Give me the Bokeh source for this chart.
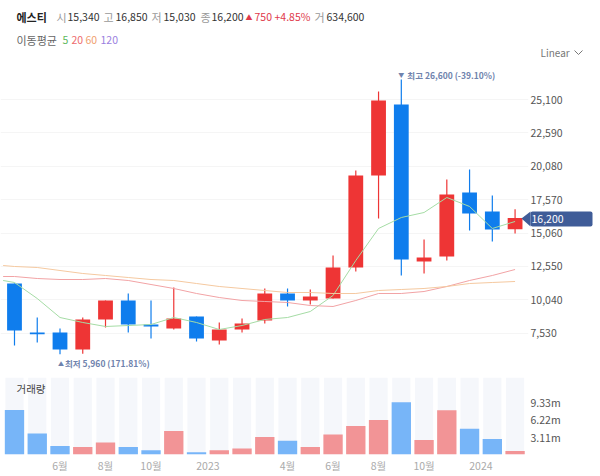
from bokeh.embed import file_html
from bokeh.layouts import column
from bokeh.models import BoxAnnotation, ColumnDataSource, FixedTicker, Label, NumeralTickFormatter, PolyAnnotation, Range1d
from bokeh.plotting import figure
from bokeh.resources import INLINE

FONT = "Noto Sans CJK KR"
UP = "#ee3535"
DOWN = "#0f7ded"

# monthly candles, Apr 2022 - Feb 2024
opens = [11272, 7590, 7590, 6312, 8567, 9995, 8191, 7891, 8792, 6989, 7815, 8492,
         10521, 9995, 10145, 12475, 19389, 24724, 12926, 13301, 18111, 16683, 15340]
highs = [11272, 8717, 7891, 8717, 9995, 10521, 9995, 10972, 8792, 8342, 8642, 10897,
         10897, 10821, 13377, 19764, 25701, 26600, 14579, 19088, 19840, 17886, 16850]
lows = [6613, 6839, 5960, 5990, 7966, 7590, 7139, 7815, 6914, 6688, 7590, 8266,
        9544, 9694, 10145, 12174, 16157, 11874, 12024, 13001, 15255, 14429, 15030]
closes = [7740, 7462, 6312, 8567, 9995, 8191, 8041, 8642, 7139, 7815, 8266, 10521,
          9995, 10295, 12475, 19389, 25025, 13076, 13226, 17961, 16533, 15331, 16200]
volumes = [7.95, 3.77, 1.50, 1.32, 2.15, 1.32, 0.78, 4.19, 0.42, 0.78, 1.08, 3.11,
           2.45, 1.32, 3.59, 5.08, 6.16, 9.33, 2.57, 7.89, 4.60, 2.75, 0.63]

# moving averages, first point sits just left of the first candle
ma_x = [-0.5] + list(range(23))
ma5 = [11498, 11348, 10145, 8717, 8342, 8041, 8116, 8191, 8717, 8342, 7815, 8116, 8567,
       8717, 9168, 10371, 13001, 15406, 16232, 16608, 17735, 17059, 15406, 15932]
ma20 = [11798, 11798, 11648, 11573, 11573, 11648, 11498, 11197, 10897, 10521, 10220, 9995, 9920,
        9845, 9619, 9544, 9995, 10521, 10521, 10671, 11047, 11498, 11874, 12324]
ma60 = [12625, 12550, 12475, 12249, 12024, 11874, 11723, 11573, 11498, 11272, 11047, 10897, 10746,
        10596, 10596, 10521, 10521, 10746, 10821, 10897, 11047, 11272, 11348, 11423]

price_ticks = [7530, 10040, 12550, 15060, 17570, 20080, 22590, 25100]
volume_ticks = [3.11, 6.22, 9.33]
volume_tick_labels = {3.11: "3.11m", 6.22: "6.22m", 9.33: "9.33m"}
month_tick_labels = {2: "6월", 4: "8월", 6: "10월", 8.5: "2023", 12: "4월",
                     14: "6월", 16: "8월", 18: "10월", 20.5: "2024"}

# header texts: text, x, y from the top, colour, size, style
header = [
    ("에스티", 16, 16, "#222222", 11, "bold"),
    ("시", 56, 16, "#999999", 11, "normal"),
    ("15,340", 67, 16, "#333333", 10.5, "normal"),
    ("고", 103, 16, "#999999", 11, "normal"),
    ("16,850", 115, 16, "#333333", 10.5, "normal"),
    ("저", 151, 16, "#999999", 11, "normal"),
    ("15,030", 163, 16, "#333333", 10.5, "normal"),
    ("종", 200, 16, "#999999", 11, "normal"),
    ("16,200", 211, 16, "#333333", 10.5, "normal"),
    ("▲", 245, 16, "#e0394a", 7, "normal"),
    ("750", 254, 16, "#e0394a", 10.5, "normal"),
    ("+4.85%", 274, 16, "#e0394a", 10.5, "normal"),
    ("거", 314, 16, "#999999", 11, "normal"),
    ("634,600", 326, 16, "#333333", 10.5, "normal"),
    ("이동평균", 16, 39, "#666666", 11, "normal"),
    ("5", 62, 39, "#5cb85c", 10.5, "normal"),
    ("20", 71, 39, "#ee6b6e", 10.5, "normal"),
    ("60", 85, 39, "#f0a070", 10.5, "normal"),
    ("120", 100, 39, "#9b7fe0", 10.5, "normal"),
]

PRICE_H = 372
WIDTH = 600
x_range = Range1d(-0.615, 22.59)

candles = ColumnDataSource(dict(
    x=list(range(23)), open=opens, high=highs, low=lows, close=closes, volume=volumes,
    color=[UP if c >= o else DOWN for o, c in zip(opens, closes)],
    vol_color=["#f29496" if c >= o else "#77b5f8" for o, c in zip(opens, closes)],
))


def style_axis(ax):
    ax.axis_line_color = None
    ax.major_tick_line_color = None
    ax.minor_tick_line_color = None
    ax.major_tick_out = 0
    ax.major_tick_in = 0
    ax.major_label_text_font = FONT
    ax.major_label_text_font_size = "10.5px"
    ax.major_label_text_color = "#555555"
    ax.major_label_standoff = 2


p = figure(width=WIDTH, height=PRICE_H, x_range=x_range, y_range=Range1d(4584, 32540),
           output_backend="svg", toolbar_location=None, y_axis_location="right",
           min_border_left=0, min_border_top=0, min_border_bottom=0, min_border_right=72)
p.outline_line_color = None
p.xaxis.visible = False
p.xgrid.visible = False
p.ygrid.grid_line_color = "#f5f5f5"
p.yaxis.ticker = FixedTicker(ticks=price_ticks)
p.yaxis.formatter = NumeralTickFormatter(format="0,0")
style_axis(p.yaxis[0])

p.segment("x", "high", "x", "low", color="color", line_width=1.2, source=candles)
p.vbar("x", 0.65, "open", "close", fill_color="color", line_color=None, source=candles)

p.line(ma_x, ma5, color="#a5dca5", line_width=1)
p.line(ma_x, ma20, color="#f2a3a5", line_width=1)
p.line(ma_x, ma60, color="#f5c9a0", line_width=1)

for text, x, y, color, size, style in header:
    p.add_layout(Label(x=x, y=PRICE_H - y, x_units="screen", y_units="screen", text=text,
                       text_color=color, text_font=FONT, text_font_size=f"{size}px",
                       text_font_style=style, text_baseline="middle"))

# high and low callouts, anchored on their candles
for mark, text, i, val, dy, mark_dx, text_dx in [("▼", "최고 26,600 (-39.10%)", 17, 26600, 5, -3, 6),
                                                 ("▲", "최저 5,960 (171.81%)", 2, 5960, -9, -2, 5)]:
    p.add_layout(Label(x=i, y=val, text=mark, x_offset=mark_dx, y_offset=dy, text_color="#6f83ad",
                       text_font=FONT, text_font_size="6px", text_baseline="middle"))
    p.add_layout(Label(x=i, y=val, text=text, x_offset=text_dx, y_offset=dy, text_color="#6f83ad",
                       text_font=FONT, text_font_size="8.5px", text_font_style="bold",
                       text_baseline="middle"))

# annotations outside the plot frame get clipped, so the price tag and the Linear
# selector sit on a see-through figure laid over the price chart, in page pixels
tag = figure(width=WIDTH, height=PRICE_H, x_range=Range1d(0, WIDTH), y_range=Range1d(PRICE_H, 0),
             output_backend="svg", toolbar_location=None, x_axis_location=None, y_axis_location=None,
             min_border=0, margin=(-PRICE_H, 0, 0, 0), background_fill_alpha=0, border_fill_alpha=0,
             frame_align=False)
tag.outline_line_color = None
tag.grid.visible = False
tag.add_layout(BoxAnnotation(left=530, right=592, top=211, bottom=226, fill_color="#3f5c98",
                             fill_alpha=1, line_color=None, border_radius=2))
tag.add_layout(PolyAnnotation(xs=[521, 530, 530], ys=[218, 211, 226], fill_color="#3f5c98",
                              fill_alpha=1, line_color=None))
tag.add_layout(Label(x=531, y=218.5, text=f"{closes[-1]:,}", text_color="#ffffff", text_font=FONT,
                     text_font_size="10.5px", text_baseline="middle"))
tag.add_layout(Label(x=540, y=52, text="Linear", text_color="#777777", text_font=FONT,
                     text_font_size="10px", text_baseline="middle"))
tag.line([574, 578, 582], [50, 54, 50], color="#777777", line_width=1)

v = figure(width=WIDTH, height=476 - PRICE_H, x_range=x_range, y_range=Range1d(0, 13.76),
           output_backend="svg", toolbar_location=None, y_axis_location="right",
           min_border_left=0, min_border_top=5, min_border_bottom=22, min_border_right=72)
v.outline_line_color = None
v.grid.visible = False
v.yaxis.ticker = FixedTicker(ticks=volume_ticks)
v.yaxis.major_label_overrides = volume_tick_labels
style_axis(v.yaxis[0])
v.xaxis.ticker = FixedTicker(ticks=list(month_tick_labels))
v.xaxis.major_label_overrides = month_tick_labels
style_axis(v.xaxis[0])
v.xaxis.major_label_text_color = "#aaaaaa"
v.xaxis.major_label_standoff = 3

v.vbar("x", 0.8, 13.76, 0, fill_color="#f5f7fb", line_color=None, source=candles)
v.vbar("x", 0.85, "volume", 0, fill_color="vol_color", line_color=None, source=candles)
v.add_layout(Label(x=16, y=66, x_units="screen", y_units="screen", text="거래량", text_color="#444444",
                   text_font=FONT, text_font_size="10.5px", text_baseline="middle"))

page = column(p, tag, v, spacing=0)
open("out.html", "w").write(file_html(page, INLINE))
